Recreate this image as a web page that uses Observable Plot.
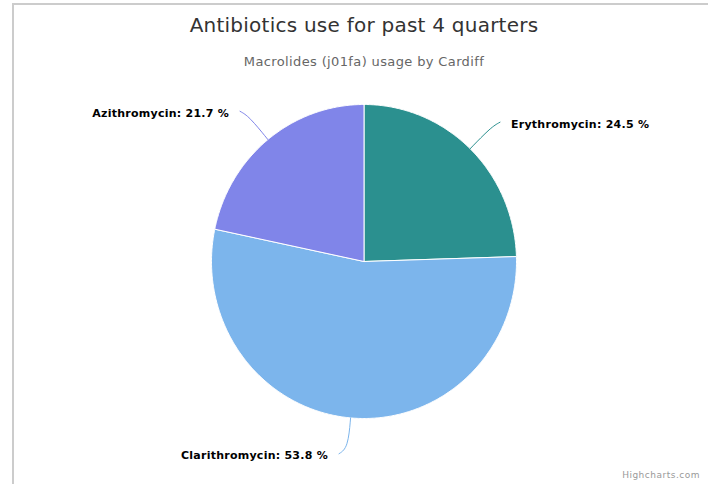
<!DOCTYPE html>
<html>
<head>
<meta charset="utf-8">
<script src="https://cdn.jsdelivr.net/npm/d3@7"></script>
<script src="https://cdn.jsdelivr.net/npm/@observablehq/plot@0.6"></script>
<style>
  html, body { margin: 0; padding: 0; background: #fff; overflow: hidden; }
  body { width: 708px; height: 484px; position: relative; font-family: "DejaVu Sans", Verdana, sans-serif; }
  #frame { position: absolute; left: 12px; top: 3px; width: 800px; height: 600px;
           border-left: 2px solid #cccccc; border-top: 2px solid #cccccc; box-sizing: border-box; }
  #header { position: relative; height: 80px; width: 708px; }
  #title { position: absolute; left: 12px; width: 704px; top: 13px; text-align: center;
           font-size: 20px; line-height: 24px; letter-spacing: 0.24px; color: #333333; }
  #subtitle { position: absolute; left: 12px; width: 704px; top: 54px; text-align: center;
              font-size: 13px; line-height: 16px; letter-spacing: 0.37px; color: #666666; }
  #credits { position: absolute; right: 8px; top: 469px; font-size: 9px; line-height: 12px;
             letter-spacing: 0.5px; color: #999999; }
  #chart { position: relative; }
  #chart text { letter-spacing: 0.25px; }
</style>
</head>
<body>
<div id="frame"></div>
<div id="header">
  <div id="title">Antibiotics use for past 4 quarters</div>
  <div id="subtitle">Macrolides (j01fa) usage by Cardiff</div>
</div>
<div id="chart"></div>
<div id="credits">Highcharts.com</div>
<script>
const names = ["Erythromycin", "Clarithromycin", "Azithromycin"];
const shares = [24.5, 53.8, 21.7];
const colors = ["#2b908f", "#7cb5ec", "#8085e9"];

// layout constants (pixels)
const W = 708, H = 404;
const cx = 363.5, cy = 181, rx = 152.5, ry = 157;
const labelDist = 30;

const total = d3.sum(shares);
let acc = 0;
const slices = names.map((name, i) => {
  const start = acc / total * 2 * Math.PI;
  acc += shares[i];
  const end = acc / total * 2 * Math.PI;
  return { name, value: shares[i], start, end, mid: (start + end) / 2 };
});

// slice outlines in unit space
const slicePts = [];
for (const s of slices) {
  slicePts.push({ name: s.name, x: 0, y: 0 });
  const n = Math.max(2, Math.ceil((s.end - s.start) / (Math.PI / 360)));
  for (let k = 0; k <= n; k++) {
    const a = s.start + (s.end - s.start) * k / n;
    slicePts.push({ name: s.name, x: Math.sin(a), y: Math.cos(a) });
  }
  slicePts.push({ name: s.name, x: 0, y: 0 });
}

// connectors and labels
const connPts = [];
const labels = [];
for (const s of slices) {
  const sx = Math.sin(s.mid), cyv = Math.cos(s.mid);
  const side = sx >= 0 ? 1 : -1;
  const edge = { x: sx, y: cyv };
  const outer = { x: sx * (rx + labelDist) / rx, y: cyv * (ry + labelDist) / ry };
  const endPx = { dx: side * 9, dy: cyv > 0 ? -5 : 6 };
  const end = { x: outer.x + endPx.dx / rx, y: outer.y - endPx.dy / ry };
  connPts.push({ name: s.name, ...end }, { name: s.name, ...outer }, { name: s.name, ...edge });
  labels.push({ name: s.name, side, x: end.x + side * 11 / rx, y: end.y, text: `${s.name}: ${s.value} %` });
}

const chart = Plot.plot({
  width: W, height: H, margin: 0,
  x: { domain: [-1, 1], range: [cx - rx, cx + rx], axis: null },
  y: { domain: [-1, 1], range: [cy + ry, cy - ry], axis: null },
  color: { domain: names, range: colors },
  style: { background: "transparent", overflow: "visible" },
  marks: [
    Plot.line(slicePts, { x: "x", y: "y", z: "name", fill: "name", stroke: "white", strokeWidth: 1, strokeLinejoin: "round" }),
    Plot.line(connPts, { x: "x", y: "y", z: "name", stroke: "name", strokeWidth: 1, curve: "basis" }),
    Plot.text(labels.filter(d => d.side > 0), { x: "x", y: "y", text: "text", textAnchor: "start", dy: 2,
      fontFamily: "DejaVu Sans", fontSize: 11, fontWeight: "bold", fill: "black", stroke: "white", strokeWidth: 1 }),
    Plot.text(labels.filter(d => d.side < 0), { x: "x", y: "y", text: "text", textAnchor: "end", dy: 2,
      fontFamily: "DejaVu Sans", fontSize: 11, fontWeight: "bold", fill: "black", stroke: "white", strokeWidth: 1 })
  ]
});
document.getElementById("chart").appendChild(chart);
</script>
</body>
</html>
